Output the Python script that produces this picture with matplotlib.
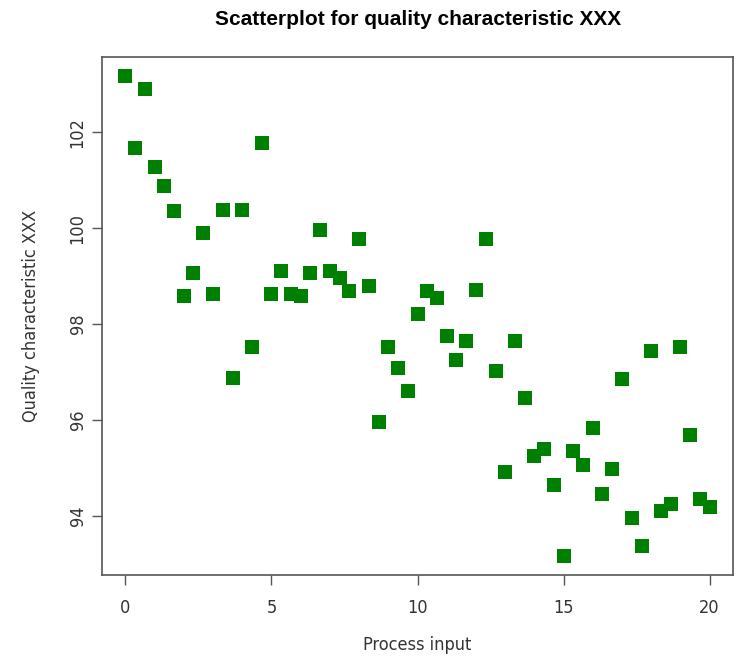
import matplotlib.pyplot as plt

plt.rcParams['font.family'] = ['DejaVu Sans']
plt.rcParams['font.stretch'] = 'condensed'

# process input (steps of 1/3 from 0 to 20)
process_input = [0, 0.33, 0.67, 1, 1.33, 1.67, 2, 2.33, 2.67, 3, 3.33, 3.67,
                 4, 4.33, 4.67, 5, 5.33, 5.67, 6, 6.33, 6.67, 7, 7.33, 7.67,
                 8, 8.33, 8.67, 9, 9.33, 9.67, 10, 10.33, 10.67, 11, 11.33, 11.67,
                 12, 12.33, 12.67, 13, 13.33, 13.67, 14, 14.33, 14.67, 15, 15.33, 15.67,
                 16, 16.33, 16.67, 17, 17.33, 17.67, 18, 18.33, 18.67, 19, 19.33, 19.67, 20]

quality_xxx = [103.17, 101.67, 102.9, 101.27, 100.88, 100.35, 98.58, 99.06, 99.9, 98.63,
               100.38, 96.88, 100.38, 97.52, 101.77, 98.63, 99.1, 98.63, 98.58, 99.06,
               99.96, 99.1, 98.96, 98.69, 99.77, 98.79, 95.96, 97.52, 97.08, 96.6,
               98.21, 98.69, 98.54, 97.75, 97.25, 97.65, 98.71, 99.77, 97.02, 94.92,
               97.65, 96.46, 95.25, 95.4, 94.65, 93.17, 95.35, 95.06, 95.83, 94.46,
               94.98, 96.85, 93.96, 93.38, 97.44, 94.1, 94.25, 97.52, 95.69, 94.35, 94.19]

x_ticks = [0, 5, 10, 15, 20]
y_ticks = [94, 96, 98, 100, 102]

fig = plt.figure(figsize=(7.36, 6.56), dpi=100)
ax = fig.add_axes([0.1386, 0.1235, 0.8574, 0.7895])

ax.plot(process_input, quality_xxx, 's', color='#008000', markersize=10,
        markeredgewidth=0)

ax.set_xlim(-0.8, 20.8)
ax.set_ylim(92.77, 103.57)
ax.set_xticks(x_ticks)
ax.set_yticks(y_ticks)

for s in ax.spines.values():
    s.set_color('#555555')
    s.set_linewidth(1.2)

ax.tick_params(axis='both', direction='out', length=7, width=1, color='#555555',
               labelsize=13, labelcolor='#333333')
ax.tick_params(axis='x', pad=10)
ax.tick_params(axis='y', pad=4)
for lab in ax.get_yticklabels():
    lab.set_rotation(90)
    lab.set_va('center')

ax.set_xlabel('Process input', fontsize=13, labelpad=14, color='#333333')
ax.set_ylabel('Quality characteristic XXX', fontsize=13, labelpad=21, color='#333333')
fig.text(0.568, 0.97, 'Scatterplot for quality characteristic XXX',
         ha='center', va='center', fontsize=15, fontweight='bold',
         family=['Liberation Sans', 'DejaVu Sans'], fontstretch='normal')

fig.savefig('out.png', dpi=100)
